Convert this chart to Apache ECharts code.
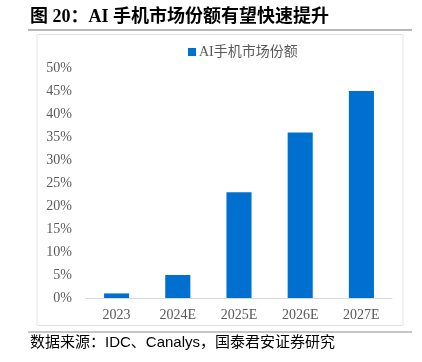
<!DOCTYPE html>
<html><head><meta charset="utf-8">
<script src="https://cdn.jsdelivr.net/npm/echarts@6/dist/echarts.min.js"></script>
<style>html,body{margin:0;padding:0;background:#fff}#c{width:422px;height:362px}</style>
</head><body><div id="c"></div>
<script>
var categories = ['2023', '2024E', '2025E', '2026E', '2027E'];
var shareValues = [0.01, 0.05, 0.23, 0.36, 0.45];
var seriesName = 'AI手机市场份额';
var titleText = '图 20：AI 手机市场份额有望快速提升';
var sourceText = '数据来源：IDC、Canalys，国泰君安证券研究';

var chart = echarts.init(document.getElementById('c'), null, {renderer: 'canvas'});
var serif = '"Liberation Serif","Times New Roman","Noto Sans CJK SC",serif';
chart.setOption({
  animation: false,
  backgroundColor: '#fff',
  graphic: [
    {type: 'text', left: 30, top: 8, style: {text: titleText, font: 'bold 18px ' + serif, fill: '#000'}},
    {type: 'line', shape: {x1: 28, y1: 30, x2: 412, y2: 30}, style: {stroke: '#b8b8b8', lineWidth: 2}},
    {type: 'rect', shape: {x: 37, y: 34.5, width: 366, height: 291}, style: {fill: 'none', stroke: '#e3e3e3', lineWidth: 1}},
    {type: 'line', shape: {x1: 28, y1: 332, x2: 412, y2: 332}, style: {stroke: '#8c8c8c', lineWidth: 1}},
    {type: 'text', left: 30, top: 335, style: {text: sourceText, font: '15px "Liberation Sans","Noto Sans CJK SC",sans-serif', fill: '#000'}}
  ],
  legend: {
    top: 40, left: 183,
    itemWidth: 8, itemHeight: 8, itemGap: 4,
    icon: 'rect',
    textStyle: {fontFamily: serif, fontSize: 14, color: '#595959', padding: [0, 0, 0, -2]},
    data: [seriesName]
  },
  grid: {left: 86, right: 30, top: 68, bottom: 64, containLabel: false},
  xAxis: {
    type: 'category', data: categories,
    axisLine: {lineStyle: {color: '#d9d9d9'}},
    axisTick: {show: false},
    axisLabel: {fontFamily: serif, fontSize: 14, color: '#595959', margin: 10}
  },
  yAxis: {
    type: 'value', min: 0, max: 0.5, interval: 0.05,
    axisLine: {show: false}, axisTick: {show: false}, splitLine: {show: false},
    axisLabel: {fontFamily: serif, fontSize: 14, color: '#595959', margin: 14,
      formatter: function (v) { return Math.round(v * 100) + '%'; }}
  },
  series: [{
    name: seriesName, type: 'bar', data: shareValues,
    barWidth: '41%',
    itemStyle: {color: '#0070d0'}
  }]
});
</script></body></html>
